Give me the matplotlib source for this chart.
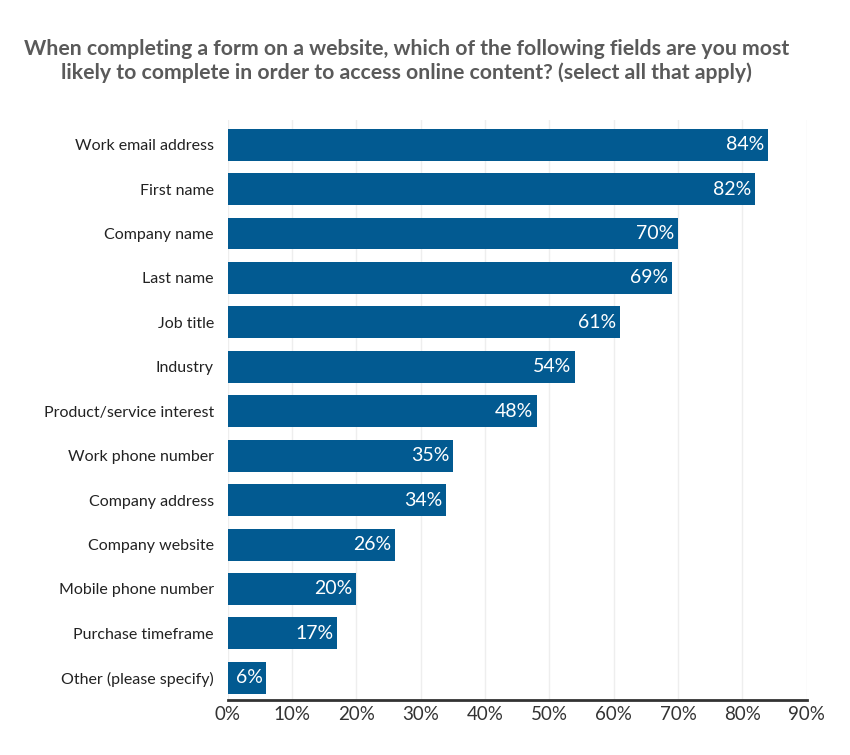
import matplotlib
matplotlib.use('Agg')
import matplotlib.pyplot as plt

fields = ['Work email address', 'First name', 'Company name', 'Last name', 'Job title',
          'Industry', 'Product/service interest', 'Work phone number', 'Company address',
          'Company website', 'Mobile phone number', 'Purchase timeframe', 'Other (please specify)']
pct = [84, 82, 70, 69, 61, 54, 48, 35, 34, 26, 20, 17, 6]
xticks = [0, 10, 20, 30, 40, 50, 60, 70, 80, 90]

plt.rcParams['font.family'] = ['Lato', 'DejaVu Sans']

fig = plt.figure(figsize=(8.5, 7.55), dpi=100)
ax = fig.add_axes([0.268, 0.0728, 0.681, 0.768])

ypos = list(range(len(fields)))
ax.barh(ypos, pct, height=0.72, color='#025A91', zorder=2)
for y, v in zip(ypos, pct):
    ax.text(v - 0.6, y, f'{v}%', color='white', ha='right', va='center', fontsize=14, zorder=3)

ax.set_xlim(0, 90)
ax.set_ylim(12.5, -0.55)
ax.set_yticks(ypos)
ax.set_yticklabels(fields, fontsize=11.5, color='#222222')
ax.set_xticks(xticks)
ax.set_xticklabels([f'{t}%' for t in xticks], fontsize=13.5, color='#333333')
ax.tick_params(axis='both', length=0)
ax.tick_params(axis='y', pad=10)
ax.tick_params(axis='x', pad=4)
ax.grid(axis='x', color='#eeeeee', linewidth=1, zorder=0)
for s in ['top', 'right', 'left']:
    ax.spines[s].set_visible(False)
ax.spines['bottom'].set_color('#333333')
ax.spines['bottom'].set_linewidth(2)

fig.text(0.478, 0.919, 'When completing a form on a website, which of the following fields are you most\n'
         'likely to complete in order to access online content? (select all that apply)',
         ha='center', va='center', fontsize=15.3, fontweight='bold', color='#5a5a5a', linespacing=1.2)

fig.savefig('out.png', dpi=100, facecolor='white')
